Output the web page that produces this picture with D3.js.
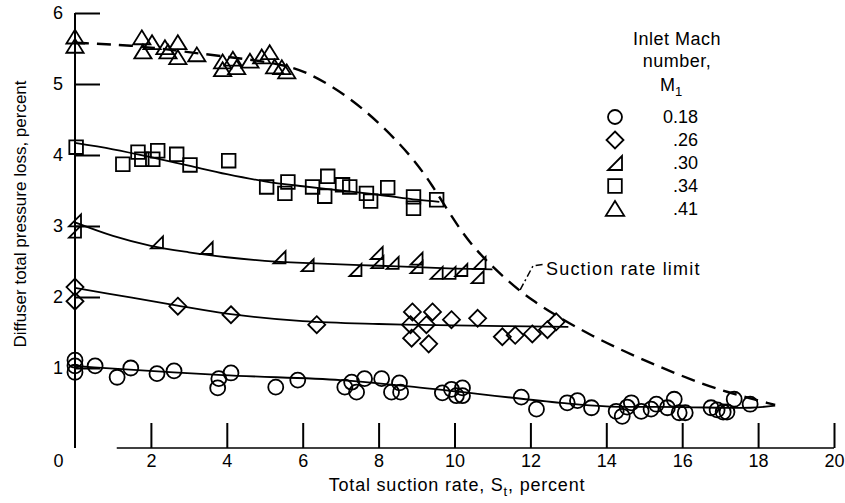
<!DOCTYPE html>
<html>
<head>
<meta charset="utf-8">
<script src="https://cdn.jsdelivr.net/npm/d3@7"></script>
<style>
  body { margin: 0; background: #fff; }
  svg { font-family: "Liberation Sans", Arial, sans-serif; }
  .tick text { font-size: 18px; fill: #000; }
  .tick line { stroke: #000; stroke-width: 2; }
</style>
</head>
<body>
<script>
const width = 845;
const height = 503;

// Inlet Mach number 0.18 (circles)
const mach018 = [[0,1.11],[0,1.03],[0,0.94],[0.53,1.03],[1.11,0.87],[1.47,1.0],[2.16,0.92],[2.61,0.96],
  [3.79,0.85],[3.76,0.72],[4.11,0.93],[5.29,0.73],[5.87,0.83],[7.11,0.73],[7.29,0.8],[7.42,0.66],
  [7.63,0.85],[8.08,0.85],[8.34,0.66],[8.55,0.79],[8.58,0.66],[9.68,0.65],[9.92,0.7],[10.21,0.72],
  [10.05,0.61],[10.21,0.61],[11.76,0.59],[12.16,0.42],[12.97,0.51],[13.24,0.54],[13.61,0.44],
  [14.26,0.39],[14.42,0.32],[14.55,0.45],[14.66,0.51],[14.92,0.39],[15.18,0.42],[15.32,0.49],
  [15.61,0.44],[15.79,0.56],[15.92,0.37],[16.08,0.37],[16.76,0.44],[16.92,0.41],[17.08,0.38],
  [17.18,0.38],[17.37,0.56],[17.79,0.49]];
// 0.26 (diamonds)
const mach026 = [[0,2.14],[0,1.94],[2.71,1.87],[4.11,1.75],[6.37,1.61],[8.89,1.79],[9.42,1.79],
  [8.84,1.61],[9.26,1.61],[8.87,1.42],[9.32,1.34],[9.92,1.68],[10.61,1.7],[11.26,1.44],[11.6,1.46],
  [12.05,1.48],[12.45,1.54],[12.68,1.65]];
// 0.30 (right triangles)
const mach030 = [[0,3.08],[0,2.92],[2.16,2.77],[3.47,2.69],[5.39,2.56],[6.13,2.45],[7.39,2.38],
  [7.95,2.62],[7.97,2.49],[8.37,2.48],[9.0,2.54],[9.0,2.42],[9.53,2.34],[9.87,2.34],[10.18,2.38],
  [10.66,2.48],[10.61,2.28]];
// 0.34 (squares)
const mach034 = [[0.03,4.11],[1.26,3.87],[1.66,4.04],[1.76,3.94],[2.05,3.94],[2.18,4.06],[2.68,4.01],
  [3.03,3.86],[4.05,3.92],[5.05,3.55],[5.53,3.46],[5.61,3.62],[6.26,3.55],[6.58,3.42],[6.66,3.7],
  [7.05,3.58],[7.24,3.55],[7.68,3.46],[7.79,3.35],[8.24,3.54],[8.92,3.41],[8.92,3.25],[9.53,3.37]];
// 0.41 (triangles)
const mach041 = [[0,5.66],[0,5.53],[1.76,5.65],[2.03,5.58],[1.79,5.45],[2.37,5.51],[2.45,5.45],
  [2.71,5.58],[2.71,5.37],[3.21,5.41],[3.89,5.31],[4.16,5.35],[3.89,5.2],[4.26,5.23],[4.61,5.32],
  [4.92,5.38],[5.13,5.44],[5.26,5.24],[5.45,5.23],[5.58,5.17]];

// faired curves
const fit018 = [[0,1.03],[0.5,1.01],[3.9,0.9],[7,0.83],[8.8,0.74],[12.8,0.51],[14,0.46],[16,0.45],[17.8,0.44],[18.45,0.47]];
const fit026 = [[0,2.13],[1.5,1.99],[2.7,1.88],[4.1,1.76],[6,1.66],[8,1.62],[10,1.6],[13,1.58]];
const fit030 = [[0,3.05],[1,2.86],[2,2.72],[3,2.63],[4,2.56],[5,2.51],[6,2.48],[7,2.46],[8,2.44],[9,2.42],[10,2.4],[11,2.39]];
const fit034 = [[0,4.17],[1,4.08],[2,3.97],[3,3.85],[4,3.73],[5,3.63],[6,3.56],[7,3.5],[8,3.44],[9,3.37],[9.6,3.34]];
const limitCurve = [[0,5.58],[1.76,5.54],[3.21,5.43],[5.39,5.3],[6.2,5.15],[7.16,4.84],[8.03,4.45],[8.89,3.97],
  [9.42,3.57],[9.9,3.15],[10.5,2.68],[11.45,2.2],[12.0,1.97],[12.76,1.71],[13.63,1.45],[14.53,1.22],
  [15.39,1.02],[16.26,0.83],[17.16,0.66],[18.45,0.48]];

const xTicks = [0, 2, 4, 6, 8, 10, 12, 14, 16, 18, 20];
const yTicks = [1, 2, 3, 4, 5, 6];
const legendLabels = ['0.18', '.26', '.30', '.34', '.41'];

const svg = d3.select('body').append('svg')
  .attr('width', width)
  .attr('height', height);

const xScale = d3.scaleLinear().domain([0, 20]).range([75, 834]);
const yScale = d3.scaleLinear().domain([0, 6]).range([439, 13]);
const axisY = 448;

// marker shapes, drawn around 0,0
const shapes = {
  circle: r => `M${r},0A${r},${r},0,1,1,${-r},0A${r},${r},0,1,1,${r},0Z`,
  diamond: r => `M0,${-r}L${r},0L0,${r}L${-r},0Z`,
  corner: r => `M${r},${-r}L${r},${r}L${-r},${r}Z`,
  square: r => `M${-r},${-r}H${r}V${r}H${-r}Z`,
  triangle: r => `M0,${-r}L${r * 1.15},${r * 0.85}L${-r * 1.15},${r * 0.85}Z`
};
const series = [
  {data: mach018, shape: 'circle', size: 7.5, lsize: 7},
  {data: mach026, shape: 'diamond', size: 8.5, lsize: 8.5},
  {data: mach030, shape: 'corner', size: 6, lsize: 7},
  {data: mach034, shape: 'square', size: 6.8, lsize: 6.8},
  {data: mach041, shape: 'triangle', size: 7.5, lsize: 8}
];

// axes
const yAxis = d3.axisLeft(yScale)
  .tickValues(yTicks)
  .tickFormat(d3.format('d'))
  .tickSizeInner(-25)
  .tickSizeOuter(0)
  .tickPadding(12);
const gy = svg.append('g').attr('transform', 'translate(75,0)').call(yAxis);
gy.select('.domain').remove();
svg.append('line')
  .attr('x1', 75).attr('x2', 75)
  .attr('y1', yScale(6)).attr('y2', axisY)
  .attr('stroke', '#000').attr('stroke-width', 2);

const xAxis = d3.axisBottom(xScale)
  .tickValues(xTicks)
  .tickFormat(d3.format('d'))
  .tickSizeInner(-25)
  .tickSizeOuter(0)
  .tickPadding(6);
const gx = svg.append('g').attr('transform', `translate(0,${axisY})`).call(xAxis);
gx.select('.domain').remove();
gx.selectAll('.tick').filter(d => d === 0).select('line').remove();
gx.selectAll('.tick').filter(d => d === 0).select('text').attr('x', -17);
svg.append('line')
  .attr('x1', xScale(1.1)).attr('x2', xScale(20))
  .attr('y1', axisY).attr('y2', axisY)
  .attr('stroke', '#000').attr('stroke-width', 1.5);

// axis titles
svg.append('text')
  .attr('transform', `translate(26,${yScale(3) - 12}) rotate(-90)`)
  .attr('text-anchor', 'middle')
  .style('font-size', '17px')
  .text('Diffuser total pressure loss, percent');

const xt = svg.append('text')
  .attr('x', 457)
  .attr('y', 491)
  .attr('text-anchor', 'middle')
  .style('font-size', '18px')
  .style('letter-spacing', '0.8px');
xt.append('tspan').text('Total suction rate, S');
xt.append('tspan').attr('dy', 5).style('font-size', '13px').text('t');
xt.append('tspan').attr('dy', -5).text(', percent');

// curves
const line = d3.line()
  .x(d => xScale(d[0]))
  .y(d => yScale(d[1]))
  .curve(d3.curveCatmullRom);

[fit018, fit026, fit030, fit034].forEach(f => {
  svg.append('path')
    .attr('d', line(f))
    .attr('fill', 'none')
    .attr('stroke', '#000')
    .attr('stroke-width', 1.8);
});

svg.append('path')
  .attr('d', line.curve(d3.curveBasis)(limitCurve))
  .attr('fill', 'none')
  .attr('stroke', '#000')
  .attr('stroke-width', 2.4)
  .attr('stroke-dasharray', '14,8');

// markers
series.forEach(s => {
  svg.append('g').selectAll('path')
    .data(s.data)
    .enter()
    .append('path')
    .attr('d', shapes[s.shape](s.size))
    .attr('transform', d => `translate(${xScale(d[0])},${yScale(d[1])})`)
    .attr('fill', 'none')
    .attr('stroke', '#000')
    .attr('stroke-width', 1.8);
});

// suction rate limit callout
svg.append('path')
  .attr('d', `M${xScale(11.73)},${yScale(2.1)}L${xScale(12.07)},${yScale(2.44)}L${xScale(12.33)},${yScale(2.46)}`)
  .attr('fill', 'none')
  .attr('stroke', '#000')
  .attr('stroke-width', 1.5)
  .attr('stroke-dasharray', '7,3,2,3');
svg.append('text')
  .attr('x', 546)
  .attr('y', 275)
  .style('font-size', '18px')
  .style('letter-spacing', '1.2px')
  .text('Suction rate limit');

// legend
const legend = svg.append('g');
const titleLines = ['Inlet Mach', 'number,'];
titleLines.forEach((t, i) => {
  legend.append('text')
    .attr('x', 677)
    .attr('y', 45 + i * 22)
    .attr('text-anchor', 'middle')
    .style('font-size', '18px')
    .style('letter-spacing', '0.5px')
    .text(t);
});
const mt = legend.append('text')
  .attr('x', 671)
  .attr('y', 91)
  .attr('text-anchor', 'middle')
  .style('font-size', '18px');
mt.append('tspan').text('M');
mt.append('tspan').attr('dy', 5).style('font-size', '13px').text('1');

legendLabels.forEach((lab, i) => {
  const cy = 117 + i * 23;
  legend.append('path')
    .attr('d', shapes[series[i].shape](series[i].lsize))
    .attr('transform', `translate(615,${cy})`)
    .attr('fill', 'none')
    .attr('stroke', '#000')
    .attr('stroke-width', 1.8);
  legend.append('text')
    .attr('x', 698)
    .attr('y', cy + 6)
    .attr('text-anchor', 'end')
    .style('font-size', '18px')
    .text(lab);
});
</script>
</body>
</html>
